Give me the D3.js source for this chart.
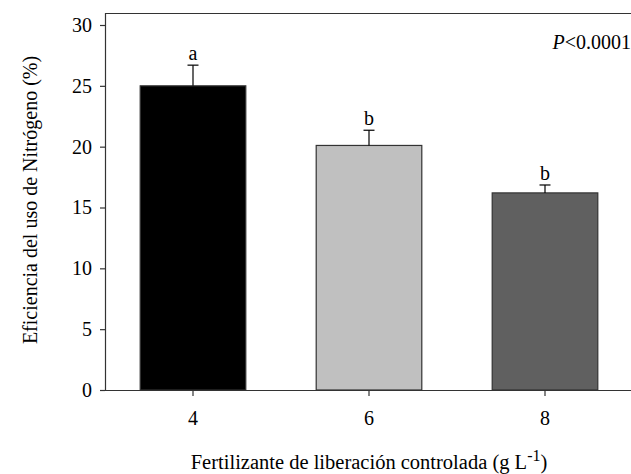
<!DOCTYPE html>
<html><head><meta charset="utf-8">
<script src="https://cdn.jsdelivr.net/npm/d3@7"></script>
<style>body{margin:0;background:#fff}svg{display:block}svg text{font-family:"Liberation Serif","Times New Roman",Times,serif}</style>
</head><body>
<script>
const categories = ["4","6","8"];
const means = [25.0, 20.1, 16.2];
const errors = [1.7, 1.25, 0.65];
const letters = ["a","b","b"];
const colors = ["#000000","#c0c0c0","#606060"];
const yTicks = [0,5,10,15,20,25,30];

const W=631,H=474;
const m={left:105,right:-2,top:13,bottom:84};
const FS=20;
const FF='"Liberation Serif","Times New Roman",Times,serif';
const svg=d3.select("body").append("svg").attr("width",W).attr("height",H);
const x=d3.scaleBand().domain(categories).range([m.left,W-m.right]).paddingInner(0.4).paddingOuter(0.2);
const y=d3.scaleLinear().domain([0,30]).range([390,25]);

svg.append("line").attr("x1",m.left).attr("x2",W).attr("y1",m.top+0.5).attr("y2",m.top+0.5).attr("stroke","#333").attr("stroke-width",1.2);
svg.append("line").attr("x1",m.left+0.5).attr("x2",m.left+0.5).attr("y1",m.top).attr("y2",390).attr("stroke","#333").attr("stroke-width",1.2);

svg.selectAll("rect.bar").data(categories).join("rect")
 .attr("x",d=>x(d)).attr("width",x.bandwidth())
 .attr("y",(d,i)=>y(means[i])).attr("height",(d,i)=>y(0)-y(means[i]))
 .attr("fill",(d,i)=>colors[i]).attr("stroke","#333").attr("stroke-width",1.2);

const cx=d=>x(d)+x.bandwidth()/2;
svg.selectAll("line.err").data(categories).join("line")
 .attr("x1",d=>cx(d)).attr("x2",d=>cx(d))
 .attr("y1",(d,i)=>y(means[i])).attr("y2",(d,i)=>y(means[i]+errors[i]))
 .attr("stroke","#000").attr("stroke-width",1.2);
svg.selectAll("line.cap").data(categories).join("line")
 .attr("x1",d=>cx(d)-5.5).attr("x2",d=>cx(d)+5.5)
 .attr("y1",(d,i)=>y(means[i]+errors[i])).attr("y2",(d,i)=>y(means[i]+errors[i]))
 .attr("stroke","#000").attr("stroke-width",1.2);
svg.selectAll("text.let").data(categories).join("text")
 .attr("x",d=>cx(d)).attr("y",(d,i)=>y(means[i]+errors[i])-5)
 .attr("text-anchor","middle").attr("font-size",FS).attr("font-family",FF).text((d,i)=>letters[i]);

const ya=svg.append("g").attr("transform",`translate(${m.left},0)`)
 .call(d3.axisLeft(y).tickValues(yTicks).tickSize(5).tickPadding(8));
ya.attr("font-family",FF).attr("font-size",FS);
ya.select(".domain").remove();
ya.selectAll("line").attr("stroke","#333").attr("stroke-width",1.2);
ya.selectAll("text").attr("fill","#000");

const xa=svg.append("g").attr("transform",`translate(0,390)`)
 .call(d3.axisBottom(x).tickSize(6).tickPadding(15));
xa.attr("font-family",FF).attr("font-size",FS);
xa.select(".domain").attr("d",`M${m.left},0.5H${W}`).attr("stroke","#333").attr("stroke-width",1.2);
xa.selectAll("line").attr("stroke","#333").attr("stroke-width",1.2);
xa.selectAll("text").attr("fill","#000");

svg.append("text").attr("transform","translate(37,200) rotate(-90)").attr("text-anchor","middle")
 .attr("font-size",FS).attr("font-family",FF).text("Eficiencia del uso de Nitrógeno (%)");
const xl=svg.append("text").attr("x",x("6")+x.bandwidth()/2).attr("y",469).attr("text-anchor","middle").attr("font-size",20.5).attr("font-family",FF);
xl.append("tspan").text("Fertilizante de liberación controlada (g L");
xl.append("tspan").attr("dy",-8).attr("font-size",16).text("-1");
xl.append("tspan").attr("dy",8).text(")");

const pt=svg.append("text").attr("x",631).attr("y",49).attr("text-anchor","end").attr("font-size",FS).attr("font-family",FF);
pt.append("tspan").attr("font-style","italic").text("P");
pt.append("tspan").text("<0.0001");
</script>
</body></html>
